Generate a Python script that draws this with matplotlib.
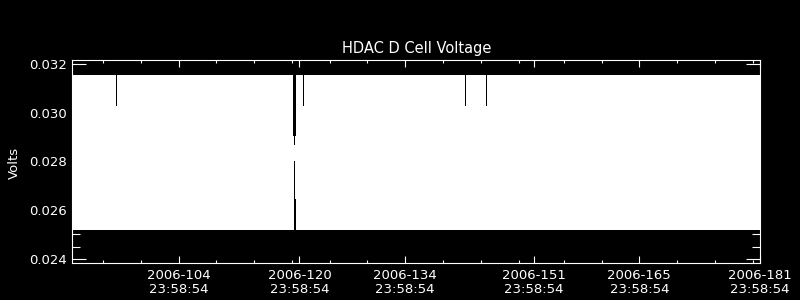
import matplotlib
matplotlib.use("Agg")
import matplotlib.pyplot as plt

# ---- data (day-of-year 2006, volts) ----
start_day = 89.92
end_day = 181.02
base_lo = 0.025185
base_hi = 0.031561

# short intervals where the signal envelope departs from its usual range
dip_day = [95.72, 119.15, 119.28, 119.42, 120.48, 141.93, 144.71]
dip_len = [0.11, 0.11, 0.11, 0.11, 0.11, 0.11, 0.11]
dip_hi = [0.030299, 0.029051, 0.028690, 0.029051, 0.030299, 0.030299, 0.030299]
dip_lo = [0.025185, 0.025185, 0.028037, 0.026446, 0.025185, 0.025185, 0.025185]

xtick_days = [104, 120, 134, 151, 165, 181]
xtick_labels = ["2006-104\n23:58:54", "2006-120\n23:58:54", "2006-134\n23:58:54",
                "2006-151\n23:58:54", "2006-165\n23:58:54", "2006-181\n23:58:54"]
xminor_days = [94, 99, 109, 114, 119, 124, 129, 139, 144, 149, 155, 160, 170, 175, 180]
ytick_vals = [0.024, 0.026, 0.028, 0.030, 0.032]
ytick_labels = ["0.024", "0.026", "0.028", "0.030", "0.032"]
yminor_vals = [0.0245, 0.025, 0.0255, 0.0265, 0.027, 0.0275, 0.0285, 0.029, 0.0295,
               0.0305, 0.031, 0.0315]

# build step envelope
env_x = [start_day]
env_lo = [base_lo]
env_hi = [base_hi]
for d, w, h, l in zip(dip_day, dip_len, dip_hi, dip_lo):
    env_x += [d, d + w]
    env_hi += [h, base_hi]
    env_lo += [l, base_lo]
env_x.append(end_day)
env_hi.append(base_hi)
env_lo.append(base_lo)

plt.rcParams['font.family'] = ['DejaVu Sans']
fig = plt.figure(figsize=(8, 3), dpi=100, facecolor='black')
ax = fig.add_axes([72.33 / 800, 1 - 263.33 / 300, 688 / 800, (263.33 - 59.67) / 300])
ax.set_facecolor('black')

ax.fill_between(env_x, env_lo, env_hi, step='post', color='white',
                linewidth=0, antialiased=False)

ax.set_xlim(start_day, end_day)
ax.set_ylim(0.02381, 0.03219)

ax.set_xticks(xtick_days)
ax.set_xticklabels(xtick_labels)
ax.set_xticks(xminor_days, minor=True)
ax.set_yticks(ytick_vals)
ax.set_yticklabels(ytick_labels)
ax.set_yticks(yminor_vals, minor=True)

for s in ax.spines.values():
    s.set_color('white')
    s.set_linewidth(0.8)

ax.tick_params(axis='x', which='major', direction='in', length=4.8, width=0.8,
               colors='white', top=True, labelsize=9.5, pad=4)
ax.tick_params(axis='x', which='minor', direction='in', length=2.3, width=0.8,
               colors='white', top=True)
ax.tick_params(axis='y', which='major', direction='in', length=10, width=0.8,
               colors='white', right=True, labelsize=9.5, pad=4)
ax.tick_params(axis='y', which='minor', direction='in', length=5.5, width=0.8,
               colors='white', right=True)
for lbl in ax.get_xticklabels():
    lbl.set_linespacing(1.15)

ax.set_title("HDAC D Cell Voltage", color='white', fontsize=10.5, pad=5)
fig.text(14 / 800, 1 - 162.5 / 300, "Volts", rotation=90, color='white',
         fontsize=9.5, ha='center', va='center')

fig.savefig("out.png", dpi=100, facecolor='black')
